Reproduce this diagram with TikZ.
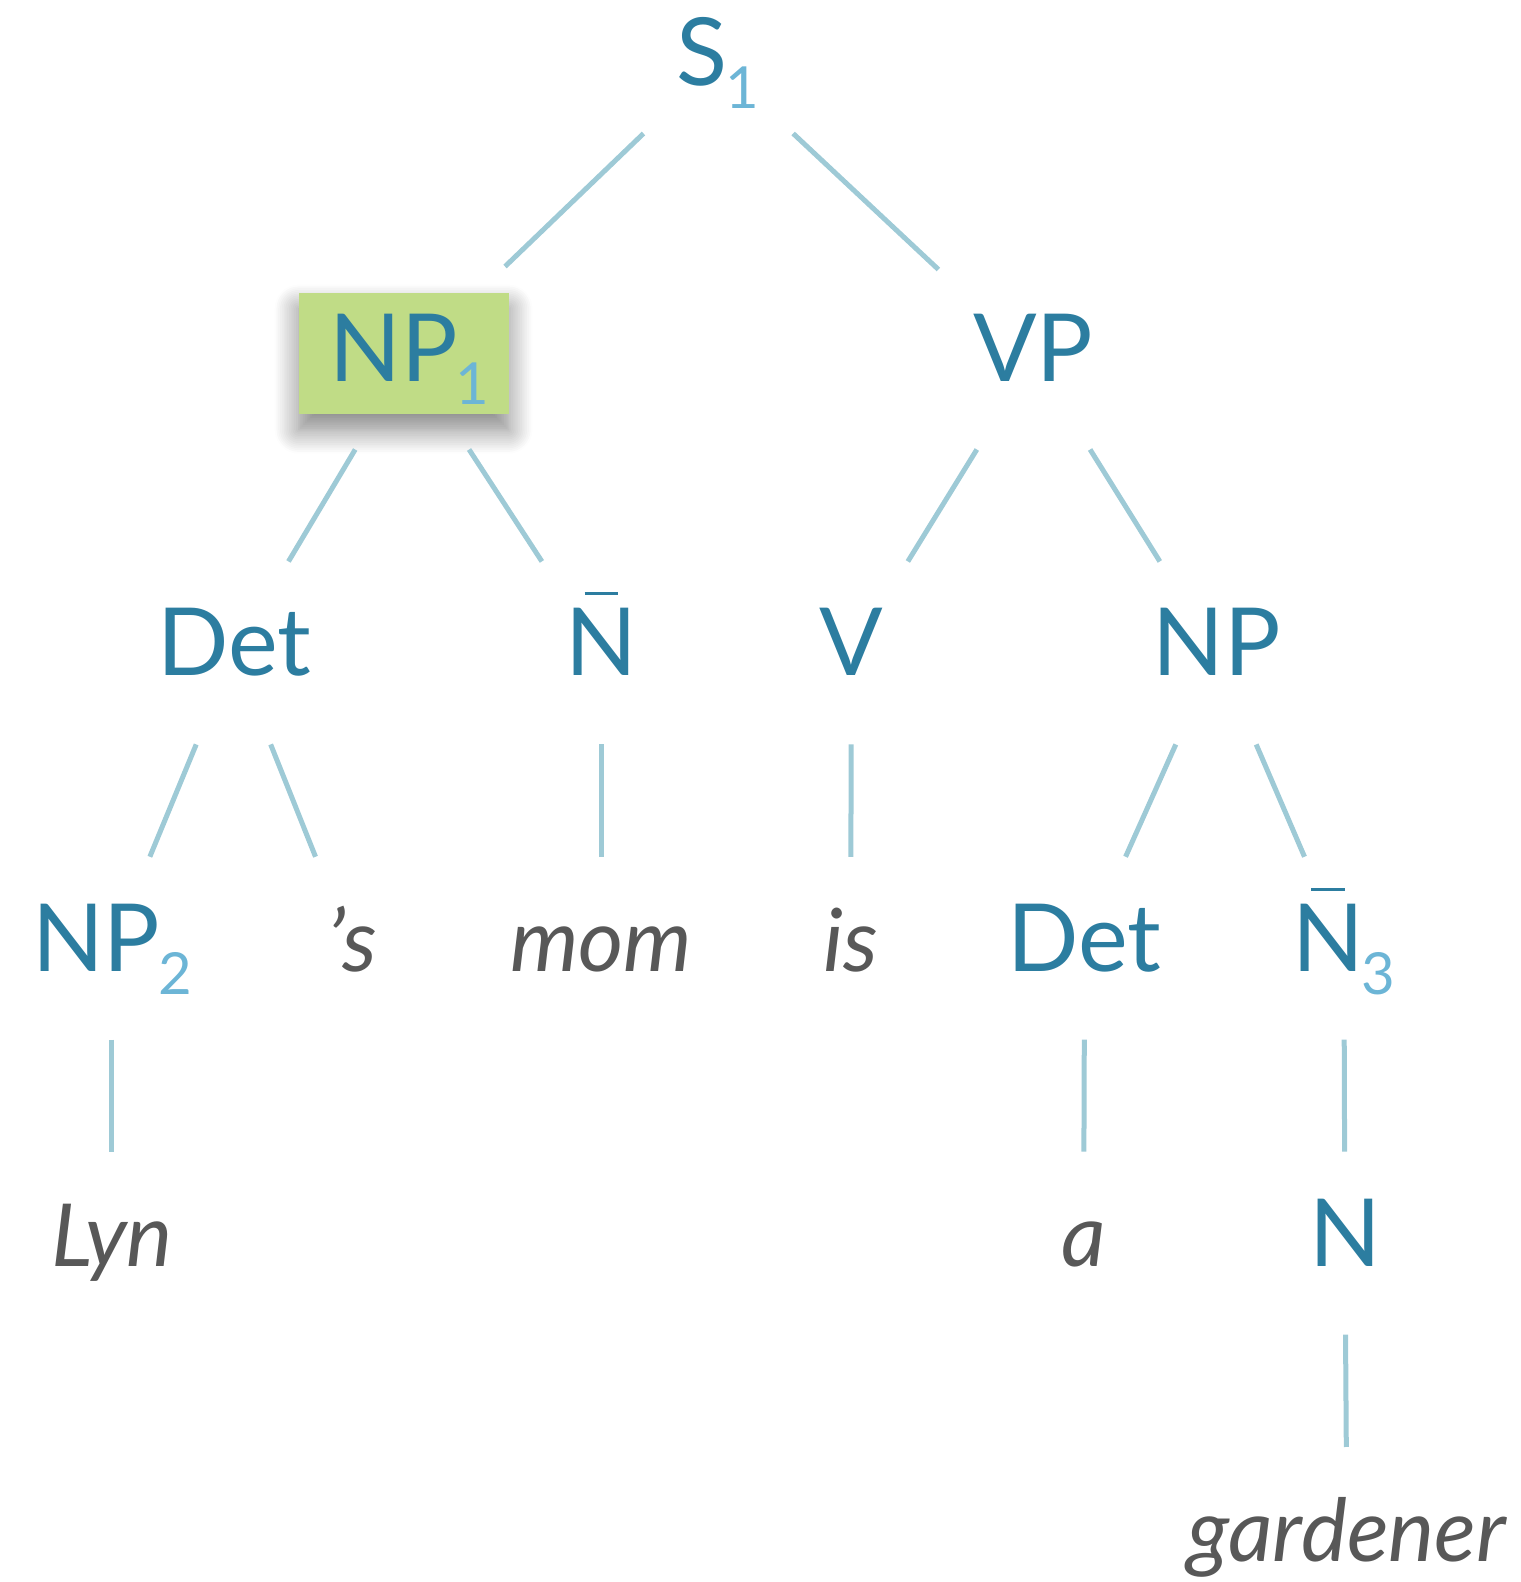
\documentclass[tikz,border=0pt]{standalone}
\usepackage{fontspec}
\setmainfont{Lato}
\usetikzlibrary{calc,backgrounds,shadows.blur}
\definecolor{catblue}{RGB}{44,125,160}
\definecolor{subblue}{RGB}{108,181,214}
\definecolor{branchcol}{RGB}{158,202,214}
\definecolor{wordgray}{RGB}{88,88,88}
\definecolor{hlgreen}{RGB}{192,220,134}
\newcommand{\catsub}[1]{\kern-1pt\raisebox{-11.6pt}{\fontsize{29}{30}\selectfont\color{subblue}#1}}
\newcommand{\Nbar}{\ooalign{N\cr\hidewidth\raisebox{40.3pt}{\rule{16.6pt}{1.5pt}}\hidewidth\cr}}
\tikzset{
  cat/.style={inner sep=0pt, text height=34.3pt, text depth=11.1pt, text=catblue,
    font=\fontsize{47}{56}\selectfont},
  word/.style={cat, text=wordgray, font=\fontsize{43.5}{52}\selectfont\itshape},
  branch/.style={draw=branchcol, line width=2.5pt},
  hlbox/.style={fill=hlgreen, blur shadow={shadow xshift=0pt, shadow yshift=-8pt,
    shadow blur radius=12pt, shadow blur steps=14, shadow opacity=50}}
}
\begin{document}
\begin{tikzpicture}[x=0.5043pt, y=-0.5043pt]
  \useasboundingbox (0,0) rectangle (1507,1568);
  % categories and words, row by row
  \node[cat] (S1) at (711,62) {S\catsub{1}};
  \node[cat] (NP1) at (406,355) {NP\catsub{1}};
  \node[cat] (VP) at (1024,355) {VP};
  \node[cat] (Det1) at (232,647) {Det};
  \node[cat] (Nbar1) at (596,647) {\Nbar};
  \node[cat] (V) at (844,647) {V};
  \node[cat] (NP3) at (1206,647) {NP};
  \node[cat] (NP2) at (111,940) {NP\catsub{2}};
  \node[word] (poss) at (349,940) {’s};
  \node[word] (mom) at (596,940) {mom};
  \node[word] (is) at (843,940) {is};
  \node[cat] (Det2) at (1075,940) {Det};
  \node[cat] (Nbar3) at (1332,940) {\Nbar\catsub{3}};
  \node[word] (Lyn) at (111,1232) {Lyn};
  \node[word] (a) at (1074,1232) {a};
  \node[cat] (N) at (1333,1232) {N};
  \node[word] (gardener) at (1335,1525) {gardener};
  % highlighted subject
  \begin{scope}[on background layer]
    \fill[hlbox] ($(NP1)+(-110,-65)$) rectangle ($(NP1)+(98,55)$);
  \end{scope}
  % branches
  \draw[branch] ($(S1)!0.24!(NP1)$) -- ($(S1)!0.69!(NP1)$);
  \draw[branch] ($(S1)!0.24!(VP)$) -- ($(S1)!0.70!(VP)$);
  \foreach \p/\c in {NP1/Det1, NP1/Nbar1, VP/V, VP/NP3, Det1/NP2, Det1/poss,
      Nbar1/mom, V/is, NP3/Det2, NP3/Nbar3, NP2/Lyn, Det2/a, Nbar3/N, N/gardener}
    \draw[branch] ($(\p)!0.31!(\c)$) -- ($(\p)!0.69!(\c)$);
\end{tikzpicture}
\end{document}
